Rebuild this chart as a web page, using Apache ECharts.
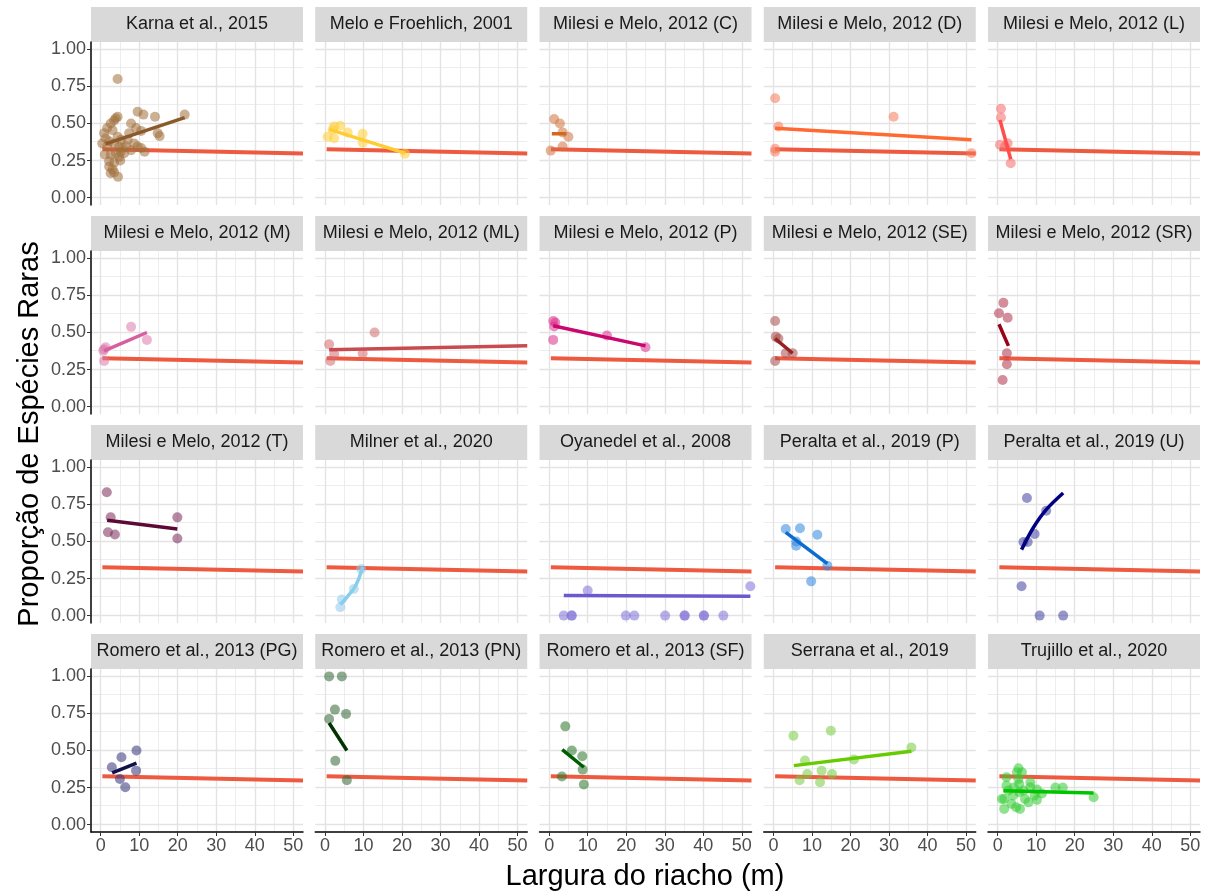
<!DOCTYPE html>
<html>
<head>
<meta charset="utf-8">
<script src="https://cdn.jsdelivr.net/npm/echarts@6/dist/echarts.min.js"></script>
<style>
  html, body { margin: 0; padding: 0; background: #fff; }
  #chart { width: 1208px; height: 893px; }
</style>
</head>
<body>
<div id="chart"></div>
<script>
// facetas por estudo: proporção de espécies raras x largura do riacho
const panelTitles = [
  'Karna et al., 2015', 'Melo e Froehlich, 2001', 'Milesi e Melo, 2012 (C)', 'Milesi e Melo, 2012 (D)', 'Milesi e Melo, 2012 (L)',
  'Milesi e Melo, 2012 (M)', 'Milesi e Melo, 2012 (ML)', 'Milesi e Melo, 2012 (P)', 'Milesi e Melo, 2012 (SE)', 'Milesi e Melo, 2012 (SR)',
  'Milesi e Melo, 2012 (T)', 'Milner et al., 2020', 'Oyanedel et al., 2008', 'Peralta et al., 2019 (P)', 'Peralta et al., 2019 (U)',
  'Romero et al., 2013 (PG)', 'Romero et al., 2013 (PN)', 'Romero et al., 2013 (SF)', 'Serrana et al., 2019', 'Trujillo et al., 2020'
];

const xTicks = [0, 10, 20, 30, 40, 50];
const xMinor = [5, 15, 25, 35, 45];
const yTicks = [0, 0.25, 0.5, 0.75, 1];
const yMinor = [0.125, 0.375, 0.625, 0.875];

// reta geral (todos os estudos)
const refLine = [[0.45, 0.327], [52.5, 0.298]];

// pontos de cada estudo [largura, proporção]
const pointData = [
  // Karna
  [[4.4,0.80],[9.6,0.58],[11.1,0.56],[14.1,0.545],[21.8,0.56],[14.8,0.435],[15.3,0.415],[7.9,0.50],[9.2,0.47],[10.5,0.45],
   [4.4,0.545],[3.5,0.52],[2.6,0.50],[1.7,0.47],[0.9,0.435],[1.3,0.40],[2.2,0.38],[3.5,0.365],[4.8,0.345],[5.7,0.335],
   [7.0,0.39],[7.4,0.435],[8.7,0.365],[9.6,0.345],[10.5,0.335],[11.4,0.31],[1.1,0.29],[2.6,0.29],[3.9,0.30],[5.2,0.31],
   [6.1,0.30],[2.2,0.245],[3.5,0.235],[5.1,0.25],[2.2,0.21],[3.1,0.19],[2.6,0.165],[3.5,0.17],[4.5,0.14],[3.9,0.535],
   [3.1,0.455],[4.4,0.41],[5.3,0.39],[6.6,0.345],[7.9,0.32],[4.8,0.275],[1.7,0.345],[0.4,0.365]],
  // Melo e Froehlich
  [[0.7,0.41],[2.4,0.40],[2.4,0.48],[4.0,0.485],[2.0,0.46],[5.9,0.44],[9.8,0.43],[9.8,0.37],[20.8,0.296]],
  // Milesi C
  [[1.3,0.53],[2.8,0.50],[3.5,0.44],[5.0,0.41],[3.5,0.345],[0.4,0.317]],
  // Milesi D
  [[0.45,0.67],[1.3,0.48],[0.45,0.33],[0.45,0.31],[31.2,0.545],[51.4,0.30]],
  // Milesi L
  [[0.86,0.60],[0.86,0.54],[0.6,0.356],[2.6,0.367],[1.9,0.344],[3.4,0.232]],
  // Milesi M
  [[0.9,0.308],[0.9,0.387],[1.3,0.40],[0.7,0.376],[7.9,0.538],[12.0,0.45]],
  // Milesi ML
  [[1.1,0.42],[1.4,0.308],[2.4,0.353],[9.8,0.358],[12.9,0.50]],
  // Milesi P
  [[1.05,0.578],[1.6,0.567],[1.3,0.54],[1.05,0.45],[15.0,0.48],[25.0,0.40]],
  // Milesi SE
  [[0.45,0.578],[0.6,0.472],[1.3,0.459],[3.2,0.36],[5.0,0.36],[0.45,0.308]],
  // Milesi SR
  [[1.5,0.70],[0.35,0.63],[2.6,0.60],[2.4,0.36],[2.4,0.286],[1.3,0.18]],
  // Milesi T
  [[1.6,0.832],[2.6,0.663],[1.9,0.562],[3.7,0.547],[19.9,0.663],[19.9,0.52]],
  // Milner
  [[4.0,0.056],[4.4,0.108],[7.5,0.18],[9.4,0.315]],
  // Oyanedel
  [[3.8,0],[5.8,0],[5.9,0],[19.9,0],[22.1,0],[30.1,0],[35.1,0],[35.2,0],[40.1,0],[40.2,0],[45.2,0],[10.0,0.169],[52.2,0.198]],
  // Peralta P
  [[3.2,0.584],[6.9,0.59],[5.9,0.50],[5.9,0.472],[11.4,0.546],[14.0,0.337],[9.8,0.231]],
  // Peralta U
  [[7.6,0.794],[12.6,0.708],[9.6,0.551],[6.7,0.497],[7.8,0.497],[6.2,0.198],[10.9,0],[17.0,0]],
  // Romero PG
  [[2.9,0.387],[5.4,0.454],[9.3,0.50],[9.2,0.364],[5.0,0.308],[6.4,0.252]],
  // Romero PN
  [[1.1,1.0],[4.4,1.0],[2.6,0.776],[5.5,0.747],[1.1,0.713],[2.7,0.43],[5.7,0.30]],
  // Romero SF
  [[4.2,0.663],[5.9,0.50],[8.6,0.461],[8.7,0.371],[3.3,0.324],[9.0,0.27]],
  // Serrana
  [[5.2,0.60],[14.9,0.634],[35.8,0.52],[20.9,0.439],[8.2,0.432],[8.8,0.342],[12.5,0.364],[15.2,0.342],[6.8,0.30],[12.1,0.286]],
  // Trujillo
  [[5.4,0.38],[5.0,0.353],[2.3,0.319],[2.3,0.263],[1.7,0.173],[1.7,0.106],[3.6,0.14],[4.8,0.117],[5.8,0.106],[4.0,0.196],
   [5.6,0.218],[5.6,0.274],[5.4,0.308],[7.1,0.173],[8.0,0.15],[8.5,0.286],[8.5,0.252],[9.6,0.196],[10.2,0.236],[10.2,0.167],
   [11.5,0.21],[15.0,0.25],[16.9,0.25],[24.9,0.184],[6.7,0.23],[4.2,0.25],[2.8,0.23],[1.1,0.173],[6.3,0.353]]
];

// ajuste de cada estudo
const trendData = [
  [[1.3,0.362],[21.8,0.54]],
  [[1.1,0.46],[20.8,0.30]],
  [[0.7,0.43],[4.4,0.43]],
  [[0.45,0.468],[51.4,0.39]],
  [[0.6,0.524],[3.4,0.259]],
  [[0.9,0.376],[12.0,0.50]],
  [[1.1,0.383],[52.5,0.41]],
  [[1.05,0.545],[25.0,0.41]],
  [[0.45,0.459],[5.0,0.36]],
  [[0.35,0.556],[2.8,0.41]],
  [[1.7,0.643],[19.9,0.584]],
  [[4.0,0.074],[5.9,0.13],[7.5,0.182],[8.7,0.243],[9.8,0.328]],
  [[3.8,0.136],[52.2,0.13]],
  [[3.2,0.562],[14.0,0.351]],
  [[6.2,0.445],[9.2,0.591],[12.6,0.715],[17.0,0.827]],
  [[3.0,0.349],[9.3,0.414]],
  [[1.1,0.686],[5.7,0.50]],
  [[3.4,0.506],[9.0,0.387]],
  [[5.3,0.398],[35.8,0.495]],
  [[1.5,0.229],[24.9,0.214]]
];

const pointColors = [
  '#A0703C', '#FFCC33', '#D2733E', '#F5785A', '#F76A6A',
  '#DD78AC', '#D36C70', '#DD2F8C', '#A84848', '#B03048',
  '#7A2A55', '#8FCBEA', '#7E70D6', '#2F86DE', '#3F3FA0',
  '#33337A', '#336633', '#2A742A', '#77CC44', '#33CC33'
];
const lineColors = [
  '#8B5A2B', '#FFCC33', '#D2691E', '#FF6A33', '#FF4D4D',
  '#D65F9F', '#C84B50', '#C8086E', '#962222', '#99001A',
  '#5C0A35', '#87CEEB', '#6A5ACD', '#0A6CD0', '#000080',
  '#10104A', '#003300', '#005C00', '#66CC00', '#00C400'
];

const FONT = '"Liberation Sans", Arial, sans-serif';
const LEFT0 = 91, PW = 212, PGAP = 12.25;
const TOP0 = 42, PH = 163, RPITCH = 209, STRIP = 35;

const grids = [], xAxes = [], yAxes = [], series = [], graphics = [];

panelTitles.forEach((title, i) => {
  const r = Math.floor(i / 5), c = i % 5;
  const left = LEFT0 + c * (PW + PGAP);
  const top = TOP0 + r * RPITCH;
  grids.push({ left: left, top: top, width: PW, height: PH });

  xAxes.push({
    gridIndex: i, type: 'value', min: -2.5, max: 52.5,
    axisLine: { show: r === 3, onZero: false, lineStyle: { color: '#000', width: 1.5 } },
    axisTick: { show: r === 3, customValues: xTicks, length: 4, lineStyle: { color: '#333' } },
    axisLabel: { show: r === 3, customValues: xTicks, color: '#4D4D4D', fontSize: 18, fontFamily: FONT, margin: 5 },
    splitLine: { show: false }
  });
  yAxes.push({
    gridIndex: i, type: 'value', min: -0.05, max: 1.05,
    axisLine: { show: c === 0, onZero: false, lineStyle: { color: '#000', width: 1.5 } },
    axisTick: { show: c === 0, customValues: yTicks, length: 4, lineStyle: { color: '#333' } },
    axisLabel: { show: c === 0, customValues: yTicks, color: '#4D4D4D', fontSize: 18, fontFamily: FONT, margin: 5,
      formatter: v => v.toFixed(2) },
    splitLine: { show: false }
  });

  // grade (linhas maiores e menores), atrás de tudo
  const minorStyle = { color: '#EBEBEB', width: 0.9, type: 'solid' };
  const majorStyle = { color: '#E3E3E3', width: 1.4, type: 'solid' };
  series.push({
    type: 'scatter', xAxisIndex: i, yAxisIndex: i, data: [], silent: true, z: 0,
    markLine: {
      z: 0, silent: true, animation: false, symbol: ['none', 'none'], label: { show: false },
      emphasis: { disabled: true },
      data: [
        ...xMinor.map(v => ({ xAxis: v, lineStyle: minorStyle })),
        ...yMinor.map(v => ({ yAxis: v, lineStyle: minorStyle })),
        ...xTicks.map(v => ({ xAxis: v, lineStyle: majorStyle })),
        ...yTicks.map(v => ({ yAxis: v, lineStyle: majorStyle }))
      ]
    }
  });

  series.push({
    type: 'line', xAxisIndex: i, yAxisIndex: i, data: refLine, showSymbol: false, silent: true, z: 2,
    lineStyle: { color: '#EE5A40', width: 4 }
  });
  series.push({
    type: 'scatter', xAxisIndex: i, yAxisIndex: i, data: pointData[i], symbolSize: 10, z: 3,
    itemStyle: { color: pointColors[i], opacity: 0.55 }
  });
  series.push({
    type: 'line', xAxisIndex: i, yAxisIndex: i, data: trendData[i], showSymbol: false, silent: true, z: 4,
    smooth: trendData[i].length > 2 ? 0.3 : false,
    lineStyle: { color: lineColors[i], width: 3.5 }
  });

  // faixa do título
  graphics.push({
    type: 'rect', shape: { x: left, y: top - STRIP, width: PW, height: STRIP },
    style: { fill: '#D9D9D9' }, silent: true
  });
  graphics.push({
    type: 'text', x: left + PW / 2, y: top - STRIP / 2,
    style: { text: title, fill: '#1A1A1A', font: '18px ' + FONT, textAlign: 'center', textVerticalAlign: 'middle' },
    silent: true
  });
});

graphics.push({
  type: 'text', x: 645, y: 877,
  style: { text: 'Largura do riacho (m)', fill: '#000', font: '29px ' + FONT, textAlign: 'center', textVerticalAlign: 'middle' }
});
graphics.push({
  type: 'text', x: 30, y: 434, rotation: Math.PI / 2,
  style: { text: 'Proporção de Espécies Raras', fill: '#000', font: '29px ' + FONT, textAlign: 'center', textVerticalAlign: 'middle' }
});

const chart = echarts.init(document.getElementById('chart'));
chart.setOption({
  backgroundColor: '#fff',
  animation: false,
  grid: grids,
  xAxis: xAxes,
  yAxis: yAxes,
  series: series,
  graphic: graphics
});
</script>
</body>
</html>
